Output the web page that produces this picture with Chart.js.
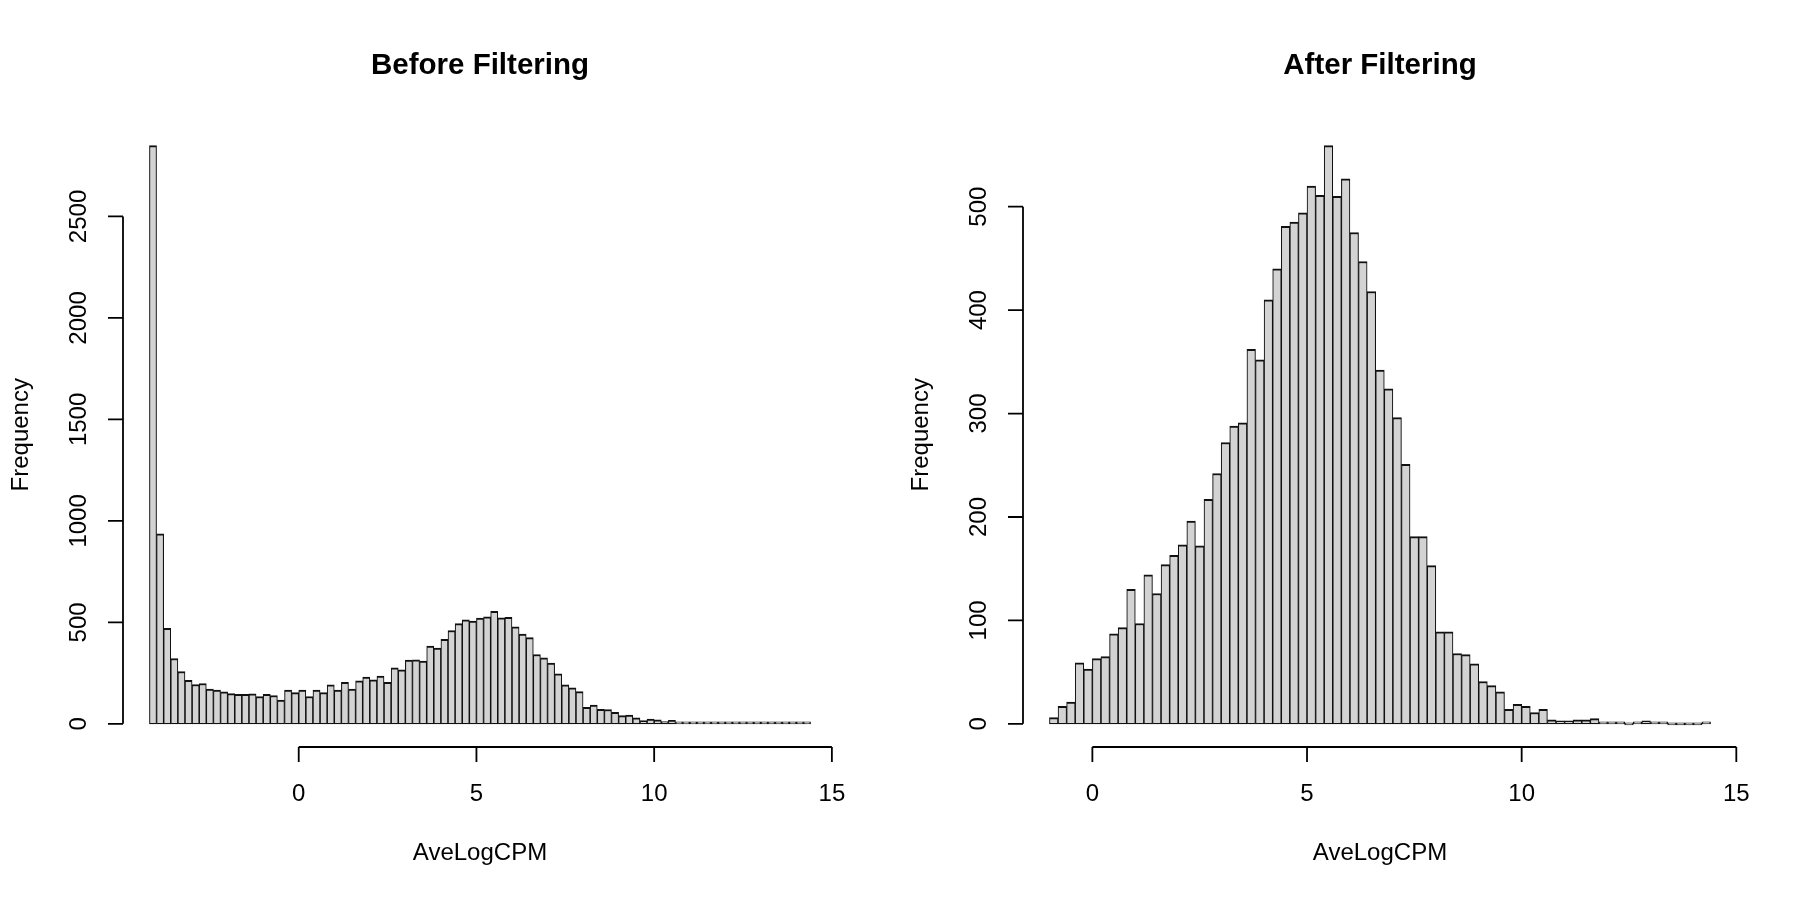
<!DOCTYPE html>
<html>
<head>
<meta charset="utf-8">
<title>AveLogCPM before / after filtering</title>
<script src="https://cdn.jsdelivr.net/npm/chart.js@4.4.1/dist/chart.umd.min.js"></script>
<style>
  html, body { margin: 0; padding: 0; background: #fff; }
  #wrap { width: 1800px; height: 900px; display: flex; }
  canvas { display: block; }
</style>
</head>
<body>
<div id="wrap">
  <canvas id="beforeChart" width="900" height="900"></canvas>
  <canvas id="afterChart" width="900" height="900"></canvas>
</div>
<script>
'use strict';

// ── Histogram data (counts) ───
const binWidth = 0.2;

const beforeFirstBreak = -4.2;
const beforeCounts = [
  2849, 936, 471, 322, 258, 215, 194, 199, 172, 166,
  158, 149, 146, 146, 148, 135, 146, 140, 117, 166,
  154, 167, 135, 166, 154, 192, 166, 205, 171, 212,
  230, 217, 235, 205, 276, 266, 314, 315, 309, 383,
  374, 417, 460, 494, 512, 506, 521, 527, 555, 522,
  525, 478, 442, 425, 342, 325, 299, 246, 192, 177,
  159, 82, 92, 72, 71, 57, 41, 43, 30, 16,
  23, 20, 11, 18, 7, 7, 7, 5, 8, 7,
  3, 5, 3, 3, 7, 3, 2, 2, 2, 2,
  2, 1, 1
];

const afterFirstBreak = -1.0;
const afterCounts = [
  6, 17, 21, 59, 53, 63, 65, 87, 93, 130,
  97, 144, 126, 154, 163, 173, 196, 172, 217, 242,
  272, 288, 291, 362, 352, 410, 440, 481, 485, 494,
  520, 511, 559, 510, 527, 475, 447, 418, 342, 324,
  296, 251, 181, 181, 153, 89, 89, 68, 67, 58,
  41, 37, 31, 14, 19, 17, 11, 14, 4, 3,
  3, 4, 4, 5, 1, 2, 2, 0, 1, 3,
  1, 1, 0, 0, 0, 0, 1
];

// ── Tick labels ──────────────────────────────────────
const xTicks       = [0, 5, 10, 15];
const beforeYTicks = [0, 500, 1000, 1500, 2000, 2500];
const afterYTicks  = [0, 100, 200, 300, 400, 500];

const FONT = '"Liberation Sans", Arial, Helvetica, sans-serif';

// ── R-style axes: lines only span the ticks, labels rotated on y ──
const rAxes = {
  id: 'rAxes',
  afterDraw(chart, args, opts) {
    const { ctx, chartArea: area, scales: { x, y } } = chart;
    const xs = opts.xTicks.map(v => x.getPixelForValue(v));
    const ys = opts.yTicks.map(v => y.getPixelForValue(v));
    const tick = 15;

    ctx.save();
    ctx.strokeStyle = '#000';
    ctx.fillStyle = '#000';
    ctx.lineWidth = 1.8;

    ctx.beginPath();
    ctx.moveTo(xs[0], area.bottom);
    ctx.lineTo(xs[xs.length - 1], area.bottom);
    xs.forEach(px => { ctx.moveTo(px, area.bottom); ctx.lineTo(px, area.bottom + tick); });
    ctx.moveTo(area.left, ys[0]);
    ctx.lineTo(area.left, ys[ys.length - 1]);
    ys.forEach(py => { ctx.moveTo(area.left, py); ctx.lineTo(area.left - tick, py); });
    ctx.stroke();

    // tick labels
    ctx.font = '24px ' + FONT;
    ctx.textAlign = 'center';
    ctx.textBaseline = 'alphabetic';
    opts.xTicks.forEach((v, i) => ctx.fillText(String(v), xs[i], area.bottom + 54));
    opts.yTicks.forEach((v, i) => {
      ctx.save();
      ctx.translate(area.left - 37, ys[i]);
      ctx.rotate(-Math.PI / 2);
      ctx.fillText(String(v), 0, 0);
      ctx.restore();
    });

    // axis titles
    const midX = (area.left + area.right) / 2;
    const midY = (area.top + area.bottom) / 2;
    ctx.fillText(opts.xTitle, midX, area.bottom + 113);
    ctx.save();
    ctx.translate(area.left - 95.5, midY);
    ctx.rotate(-Math.PI / 2);
    ctx.fillText(opts.yTitle, 0, 0);
    ctx.restore();

    // main title
    ctx.font = 'bold 29.5px ' + FONT;
    ctx.fillText(opts.title, midX, 73.5);
    ctx.restore();
  }
};

// ── One histogram panel ──────────────────────────────
function histChart(canvasId, title, firstBreak, counts, yTicks) {
  const points = counts.map((c, i) => ({ x: firstBreak + (i + 0.5) * binWidth, y: c }));
  const lastBreak = firstBreak + counts.length * binWidth;
  const xPad = (lastBreak - firstBreak) * 0.04;   // R extends ranges by 4%
  const yMax = Math.max(...counts);
  const yPad = yMax * 0.04;

  return new Chart(document.getElementById(canvasId), {
    type: 'bar',
    data: {
      datasets: [{
        data: points,
        backgroundColor: '#D3D3D3',
        borderColor: '#111',
        borderWidth: { top: 2, left: 1.1, right: 1.1, bottom: 1.2 },
        borderSkipped: false,
        barPercentage: 1,
        categoryPercentage: 1,
        minBarLength: 2,
      }],
    },
    options: {
      responsive: false,
      animation: false,
      devicePixelRatio: 1,
      layout: { padding: { left: 123, right: 63, top: 122.5, bottom: 153 } },
      plugins: {
        legend: { display: false },
        tooltip: { enabled: false },
        rAxes: { title, xTitle: 'AveLogCPM', yTitle: 'Frequency', xTicks, yTicks },
      },
      scales: {
        x: { type: 'linear', display: false, offset: false,
             min: firstBreak - xPad, max: lastBreak + xPad },
        y: { type: 'linear', display: false, min: -yPad, max: yMax + yPad },
      },
    },
    plugins: [rAxes],
  });
}

histChart('beforeChart', 'Before Filtering', beforeFirstBreak, beforeCounts, beforeYTicks);
histChart('afterChart',  'After Filtering',  afterFirstBreak,  afterCounts,  afterYTicks);
</script>
</body>
</html>
